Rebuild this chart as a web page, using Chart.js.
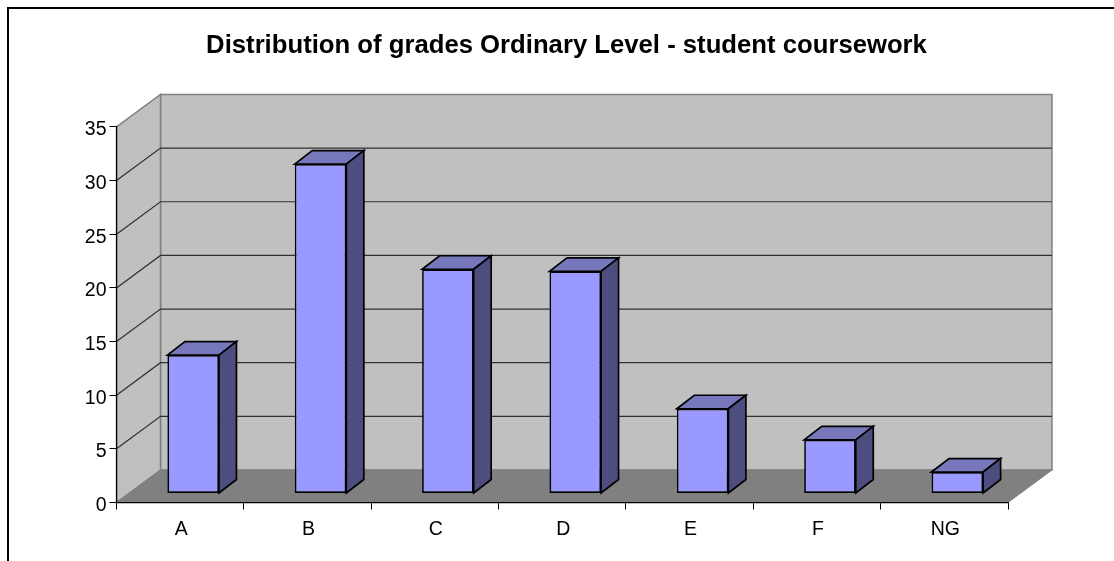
<!DOCTYPE html>
<html>
<head>
<meta charset="utf-8">
<title>Distribution of grades</title>
<script src="https://cdn.jsdelivr.net/npm/chart.js@4"></script>
<style>
  html, body { margin: 0; padding: 0; background: #fff; overflow: hidden; }
  canvas { display: block; }
</style>
</head>
<body>
<canvas id="grades" width="1114" height="561"></canvas>
<script>
// values
const grades = ['A', 'B', 'C', 'D', 'E', 'F', 'NG'];
const shares = [12.9, 30.7, 20.9, 20.7, 7.9, 5, 2];
const chartTitle = 'Distribution of grades Ordinary Level - student coursework';
const yMax = 35;
const yStep = 5;

// depth of the fake 3d box, and of the bars standing in it
const wallDx = 44, wallDy = -32.5;
const barShiftX = 13, barShiftY = -9;
const barDx = 17.5, barDy = -13.5;

function poly(ctx, pts, fill, stroke, width) {
  ctx.beginPath();
  pts.forEach((p, i) => i ? ctx.lineTo(p[0], p[1]) : ctx.moveTo(p[0], p[1]));
  ctx.closePath();
  if (fill) { ctx.fillStyle = fill; ctx.fill(); }
  if (stroke) { ctx.strokeStyle = stroke; ctx.lineWidth = width; ctx.stroke(); }
}

const box3d = {
  id: 'box3d',
  afterLayout(chart) {
    // excel centres the title a bit right of the plot
    chart.titleBlock.left = 19;
    chart.titleBlock.right = 1114;
  },
  beforeDraw(chart) {
    const ctx = chart.ctx;
    const y = chart.scales.y, x = chart.scales.x;
    const l = x.left, r = x.right, t = y.top, b = y.bottom;

    ctx.save();
    // outer frame
    ctx.beginPath();
    ctx.moveTo(8, 561);
    ctx.lineTo(8, 8);
    ctx.lineTo(1114, 8);
    ctx.strokeStyle = '#000';
    ctx.lineWidth = 2;
    ctx.stroke();

    // back wall, side wall, floor
    poly(ctx, [[l + wallDx, t + wallDy], [r + wallDx, t + wallDy], [r + wallDx, b + wallDy], [l + wallDx, b + wallDy]], '#c0c0c0', '#808080', 1.5);
    poly(ctx, [[l, t], [l + wallDx, t + wallDy], [l + wallDx, b + wallDy], [l, b]], '#c0c0c0', '#808080', 1.5);

    // gridlines run along the side wall and across the back
    y.ticks.forEach(tick => {
      if (tick.value === 0 || tick.value === yMax) return;
      const py = y.getPixelForValue(tick.value);
      ctx.beginPath();
      ctx.moveTo(l, py);
      ctx.lineTo(l + wallDx, py + wallDy);
      ctx.lineTo(r + wallDx, py + wallDy);
      ctx.strokeStyle = '#303030';
      ctx.lineWidth = 1.2;
      ctx.stroke();
    });
    poly(ctx, [[l, b], [l + wallDx, b + wallDy], [r + wallDx, b + wallDy], [r, b]], '#808080', '#808080', 1);
    ctx.restore();
  },
  beforeDatasetDraw(chart) {
    const ctx = chart.ctx;
    ctx.save();
    ctx.translate(barShiftX, barShiftY);
    ctx.lineJoin = 'miter';
    chart.getDatasetMeta(0).data.forEach(bar => {
      const p = bar.getProps(['x', 'y', 'base', 'width']);
      const left = p.x - p.width / 2, right = p.x + p.width / 2;
      poly(ctx, [[left, p.y], [left + barDx, p.y + barDy], [right + barDx, p.y + barDy], [right, p.y]], '#7777bb', '#000', 1.7);
      poly(ctx, [[right, p.y], [right + barDx, p.y + barDy], [right + barDx, p.base + barDy], [right, p.base]], '#4d4d80', '#000', 1.7);
    });
  },
  afterDatasetDraw(chart) {
    chart.ctx.restore();
  }
};

new Chart(document.getElementById('grades').getContext('2d'), {
  type: 'bar',
  data: {
    labels: grades,
    datasets: [{
      data: shares,
      backgroundColor: '#9999ff',
      borderColor: '#000',
      borderWidth: 1.7,
      borderSkipped: false,
      clip: false,
      categoryPercentage: 1,
      barPercentage: 0.405
    }]
  },
  options: {
    responsive: false,
    animation: false,
    layout: { padding: { top: 30, right: 106, left: 0, bottom: 0 } },
    plugins: {
      legend: { display: false },
      tooltip: { enabled: false },
      title: {
        display: true,
        text: chartTitle,
        color: '#000',
        font: { family: '"Liberation Sans", Arial, sans-serif', size: 25.7, weight: 'bold' },
        padding: { top: 0, bottom: 66.1 }
      }
    },
    scales: {
      x: {
        afterFit: scale => { scale.height = 58.5; },
        grid: { drawOnChartArea: false, tickLength: 7, color: '#000', tickColor: '#000' },
        border: { color: '#000', width: 1.2 },
        ticks: { color: '#000', padding: 8, labelOffset: 1, maxRotation: 0, font: { family: '"Liberation Sans", Arial, sans-serif', size: 19.5 } }
      },
      y: {
        min: 0,
        max: yMax,
        afterFit: scale => { scale.width = 116.5; },
        grid: { drawOnChartArea: false, tickLength: 7, color: '#000', tickColor: '#000' },
        border: { color: '#000', width: 1.2 },
        ticks: { stepSize: yStep, color: '#000', padding: 3, labelOffset: 3, font: { family: '"Liberation Sans", Arial, sans-serif', size: 19.5 } }
      }
    }
  },
  plugins: [box3d]
});
</script>
</body>
</html>
